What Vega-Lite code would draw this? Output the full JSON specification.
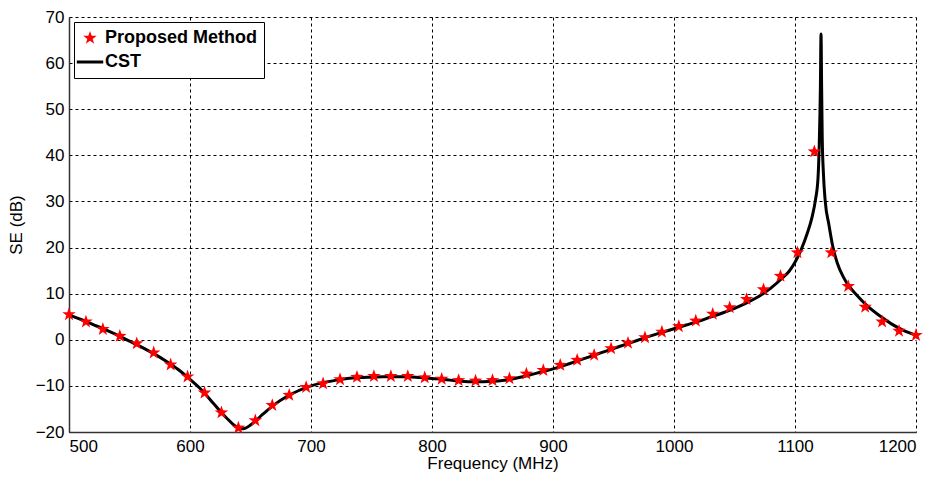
{
  "$schema": "https://vega.github.io/schema/vega-lite/v6.json",
  "width": 847,
  "height": 415,
  "autosize": {"type": "none"},
  "padding": {"left": 69, "top": 17, "right": 24, "bottom": 50},
  "config": {
    "view": {"stroke": null},
    "font": "Liberation Sans",
    "axis": {
      "grid": true,
      "gridColor": "#000",
      "gridDash": [3, 3],
      "gridOpacity": 1,
      "gridWidth": 1,
      "domainColor": "#333",
      "domainWidth": 1.5,
      "ticks": false,
      "labelFontSize": 17,
      "labelColor": "#000",
      "titleFontSize": 17,
      "titleColor": "#000",
      "titleFontWeight": "normal"
    }
  },
  "data": {"values": [
      {"f": 500, "se": 5.4, "series": "CST"}, {"f": 510, "se": 4.4, "series": "CST"}, {"f": 520, "se": 3.3, "series": "CST"}, {"f": 530, "se": 2.2, "series": "CST"},
      {"f": 540, "se": 1.0, "series": "CST"}, {"f": 550, "se": -0.3, "series": "CST"}, {"f": 560, "se": -1.6, "series": "CST"}, {"f": 570, "se": -3.0, "series": "CST"},
      {"f": 580, "se": -4.6, "series": "CST"}, {"f": 590, "se": -6.4, "series": "CST"}, {"f": 600, "se": -8.6, "series": "CST"}, {"f": 610, "se": -11.0, "series": "CST"},
      {"f": 620, "se": -14.0, "series": "CST"}, {"f": 630, "se": -16.9, "series": "CST"}, {"f": 638, "se": -18.8, "series": "CST"}, {"f": 644, "se": -19.3, "series": "CST"},
      {"f": 650, "se": -18.5, "series": "CST"}, {"f": 660, "se": -16.2, "series": "CST"}, {"f": 670, "se": -14.0, "series": "CST"}, {"f": 680, "se": -12.3, "series": "CST"},
      {"f": 690, "se": -11.0, "series": "CST"}, {"f": 700, "se": -10.0, "series": "CST"}, {"f": 710, "se": -9.3, "series": "CST"}, {"f": 720, "se": -8.8, "series": "CST"},
      {"f": 730, "se": -8.4, "series": "CST"}, {"f": 740, "se": -8.2, "series": "CST"}, {"f": 750, "se": -8.1, "series": "CST"}, {"f": 760, "se": -8.0, "series": "CST"},
      {"f": 770, "se": -8.0, "series": "CST"}, {"f": 780, "se": -8.0, "series": "CST"}, {"f": 790, "se": -8.2, "series": "CST"}, {"f": 800, "se": -8.4, "series": "CST"},
      {"f": 810, "se": -8.6, "series": "CST"}, {"f": 820, "se": -8.9, "series": "CST"}, {"f": 830, "se": -9.1, "series": "CST"}, {"f": 840, "se": -9.1, "series": "CST"},
      {"f": 850, "se": -9.0, "series": "CST"}, {"f": 860, "se": -8.8, "series": "CST"}, {"f": 870, "se": -8.3, "series": "CST"}, {"f": 880, "se": -7.7, "series": "CST"},
      {"f": 890, "se": -7.0, "series": "CST"}, {"f": 900, "se": -6.3, "series": "CST"}, {"f": 910, "se": -5.5, "series": "CST"}, {"f": 920, "se": -4.6, "series": "CST"},
      {"f": 930, "se": -3.7, "series": "CST"}, {"f": 940, "se": -2.8, "series": "CST"}, {"f": 950, "se": -1.9, "series": "CST"}, {"f": 960, "se": -1.0, "series": "CST"},
      {"f": 970, "se": -0.1, "series": "CST"}, {"f": 980, "se": 0.8, "series": "CST"}, {"f": 990, "se": 1.6, "series": "CST"}, {"f": 1000, "se": 2.4, "series": "CST"},
      {"f": 1010, "se": 3.2, "series": "CST"}, {"f": 1020, "se": 4.0, "series": "CST"}, {"f": 1030, "se": 4.9, "series": "CST"}, {"f": 1040, "se": 5.8, "series": "CST"},
      {"f": 1050, "se": 6.8, "series": "CST"}, {"f": 1060, "se": 8.0, "series": "CST"}, {"f": 1070, "se": 9.4, "series": "CST"}, {"f": 1080, "se": 11.2, "series": "CST"},
      {"f": 1090, "se": 13.5, "series": "CST"}, {"f": 1095, "se": 14.8, "series": "CST"}, {"f": 1100, "se": 16.8, "series": "CST"}, {"f": 1105, "se": 19.5, "series": "CST"},
      {"f": 1110, "se": 23.0, "series": "CST"}, {"f": 1114, "se": 26.5, "series": "CST"}, {"f": 1117, "se": 30.5, "series": "CST"}, {"f": 1119, "se": 35, "series": "CST"},
      {"f": 1120, "se": 42, "series": "CST"}, {"f": 1121, "se": 55, "series": "CST"}, {"f": 1121.5, "se": 66.3, "series": "CST"}, {"f": 1122, "se": 55, "series": "CST"},
      {"f": 1122.5, "se": 44, "series": "CST"}, {"f": 1123.5, "se": 36, "series": "CST"}, {"f": 1125, "se": 30, "series": "CST"}, {"f": 1128, "se": 25, "series": "CST"},
      {"f": 1131, "se": 20.5, "series": "CST"}, {"f": 1135, "se": 16.6, "series": "CST"}, {"f": 1140, "se": 13.6, "series": "CST"}, {"f": 1145, "se": 11.5, "series": "CST"},
      {"f": 1150, "se": 10.0, "series": "CST"}, {"f": 1160, "se": 7.3, "series": "CST"}, {"f": 1170, "se": 5.2, "series": "CST"}, {"f": 1180, "se": 3.4, "series": "CST"},
      {"f": 1190, "se": 2.0, "series": "CST"}, {"f": 1200, "se": 1.0, "series": "CST"},
      {"f": 500, "se": 5.5, "series": "Proposed Method"}, {"f": 514, "se": 3.9, "series": "Proposed Method"}, {"f": 528, "se": 2.3, "series": "Proposed Method"}, {"f": 542, "se": 0.8, "series": "Proposed Method"},
      {"f": 556, "se": -0.8, "series": "Proposed Method"}, {"f": 570, "se": -2.8, "series": "Proposed Method"}, {"f": 584, "se": -5.4, "series": "Proposed Method"}, {"f": 598, "se": -8.0, "series": "Proposed Method"},
      {"f": 612, "se": -11.5, "series": "Proposed Method"}, {"f": 626, "se": -15.8, "series": "Proposed Method"}, {"f": 640, "se": -19.1, "series": "Proposed Method"}, {"f": 654, "se": -17.5, "series": "Proposed Method"},
      {"f": 668, "se": -14.2, "series": "Proposed Method"}, {"f": 682, "se": -12.0, "series": "Proposed Method"}, {"f": 696, "se": -10.3, "series": "Proposed Method"}, {"f": 710, "se": -9.5, "series": "Proposed Method"},
      {"f": 724, "se": -8.6, "series": "Proposed Method"}, {"f": 738, "se": -8.1, "series": "Proposed Method"}, {"f": 752, "se": -7.9, "series": "Proposed Method"}, {"f": 766, "se": -7.9, "series": "Proposed Method"},
      {"f": 780, "se": -7.9, "series": "Proposed Method"}, {"f": 794, "se": -8.2, "series": "Proposed Method"}, {"f": 808, "se": -8.5, "series": "Proposed Method"}, {"f": 822, "se": -8.8, "series": "Proposed Method"},
      {"f": 836, "se": -8.9, "series": "Proposed Method"}, {"f": 850, "se": -8.8, "series": "Proposed Method"}, {"f": 864, "se": -8.4, "series": "Proposed Method"}, {"f": 878, "se": -7.4, "series": "Proposed Method"},
      {"f": 892, "se": -6.6, "series": "Proposed Method"}, {"f": 906, "se": -5.5, "series": "Proposed Method"}, {"f": 920, "se": -4.4, "series": "Proposed Method"}, {"f": 934, "se": -3.3, "series": "Proposed Method"},
      {"f": 948, "se": -1.9, "series": "Proposed Method"}, {"f": 962, "se": -0.7, "series": "Proposed Method"}, {"f": 976, "se": 0.5, "series": "Proposed Method"}, {"f": 990, "se": 1.7, "series": "Proposed Method"},
      {"f": 1004, "se": 2.9, "series": "Proposed Method"}, {"f": 1018, "se": 4.1, "series": "Proposed Method"}, {"f": 1032, "se": 5.6, "series": "Proposed Method"}, {"f": 1046, "se": 7.0, "series": "Proposed Method"},
      {"f": 1060, "se": 8.8, "series": "Proposed Method"}, {"f": 1074, "se": 10.9, "series": "Proposed Method"}, {"f": 1088, "se": 13.8, "series": "Proposed Method"}, {"f": 1102, "se": 18.9, "series": "Proposed Method"},
      {"f": 1116, "se": 40.8, "series": "Proposed Method"}, {"f": 1130, "se": 18.9, "series": "Proposed Method"}, {"f": 1144, "se": 11.6, "series": "Proposed Method"}, {"f": 1158, "se": 7.1, "series": "Proposed Method"},
      {"f": 1172, "se": 3.9, "series": "Proposed Method"}, {"f": 1186, "se": 1.9, "series": "Proposed Method"}, {"f": 1200, "se": 1.0, "series": "Proposed Method"}
  ]},
  "layer": [
    {
      "transform": [{"filter": "datum.series == 'CST'"}],
      "mark": {"type": "line", "strokeWidth": 3, "interpolate": "monotone"},
      "encoding": {
        "x": {"field": "f", "type": "quantitative",
              "scale": {"domain": [500, 1200], "nice": false, "zero": false},
              "axis": {"values": [500, 600, 700, 800, 900, 1000, 1100, 1200], "format": "d", "title": "Frequency (MHz)", "labelPadding": 6, "titlePadding": 1}},
        "y": {"field": "se", "type": "quantitative",
              "scale": {"domain": [-20, 70], "nice": false, "zero": false},
              "axis": {"values": [-20, -10, 0, 10, 20, 30, 40, 50, 60, 70], "title": "SE (dB)", "labelPadding": 5, "titlePadding": 10}},
        "color": {"field": "series", "type": "nominal",
                  "scale": {"domain": ["Proposed Method", "CST"], "range": ["#ff0000", "#000000"]},
                  "legend": {
                    "title": null,
                    "orient": "none",
                    "legendX": 5,
                    "legendY": 5,
                    "direction": "vertical",
                    "fillColor": "white",
                    "strokeColor": "#000",
                    "padding": 7,
                    "labelFontSize": 18,
                    "labelFontWeight": "bold",
                    "labelColor": "#000",
                    "labelOffset": 6,
                    "rowPadding": 6,
                    "symbolSize": 700,
                    "encode": {
                      "symbols": {
                        "update": {
                          "shape": {"signal": "datum.value == 'CST' ? 'stroke' : 'M0,-1L0.235,-0.324L0.951,-0.309L0.38,0.124L0.588,0.809L0,0.4L-0.588,0.809L-0.38,0.124L-0.951,-0.309L-0.235,-0.324Z'"},
                          "fill": {"signal": "datum.value == 'CST' ? 'transparent' : '#ff0000'"},
                          "stroke": {"signal": "datum.value == 'CST' ? '#000000' : '#ff0000'"},
                          "strokeWidth": {"signal": "datum.value == 'CST' ? 3 : 0"},
                          "size": {"signal": "datum.value == 'CST' ? 700 : 200"}
                        }
                      }
                    }
                  }}
      }
    },
    {
      "transform": [{"filter": "datum.series == 'Proposed Method'"}],
      "mark": {"type": "point", "shape": "M0,-1L0.235,-0.324L0.951,-0.309L0.38,0.124L0.588,0.809L0,0.4L-0.588,0.809L-0.38,0.124L-0.951,-0.309L-0.235,-0.324Z", "filled": true, "size": 200, "opacity": 1},
      "encoding": {
        "x": {"field": "f", "type": "quantitative"},
        "y": {"field": "se", "type": "quantitative"},
        "color": {"field": "series", "type": "nominal"}
      }
    }
  ]
}
